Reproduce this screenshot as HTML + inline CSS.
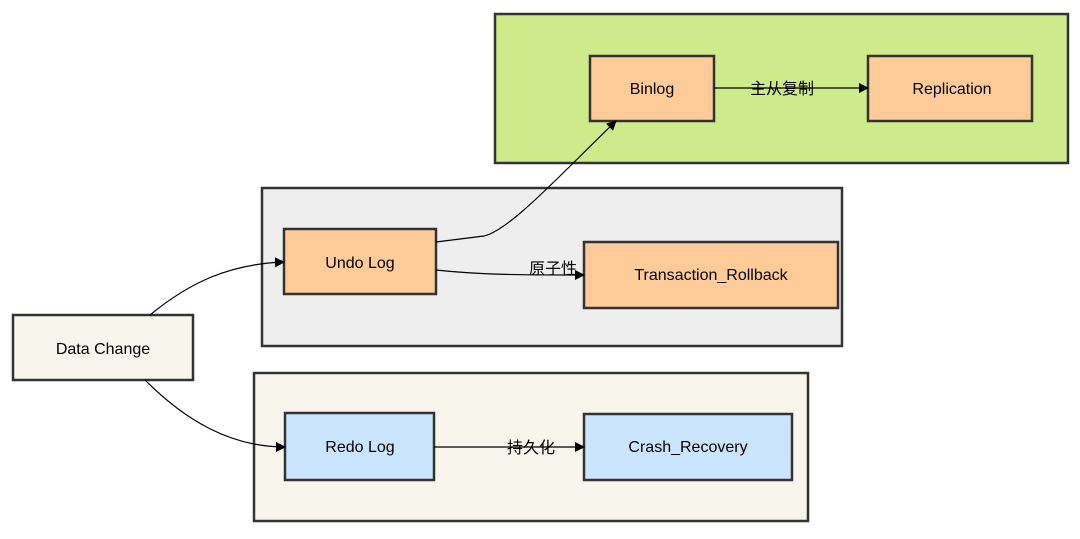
<!DOCTYPE html>
<html><head><meta charset="utf-8"><style>
html,body{margin:0;padding:0;background:#fff;}
svg text{font-family:"Liberation Sans","Noto Sans CJK SC",sans-serif;font-size:16px;fill:#000;}
</style></head><body>
<svg width="1080" height="534" viewBox="0 0 1080 534" xmlns="http://www.w3.org/2000/svg">
<defs>
<marker id="a" markerWidth="10" markerHeight="10" refX="9" refY="5" orient="auto" markerUnits="userSpaceOnUse">
<path d="M0,0 L10,5 L0,10 z" fill="#000"/></marker>
</defs>
<g stroke="#333" stroke-width="2.5">
<rect x="495" y="14" width="573" height="149" fill="#cdeb8b"/>
<rect x="262" y="188" width="580" height="158" fill="#eeeeee"/>
<rect x="254" y="373" width="554" height="148" fill="#f8f5ec"/>
<rect x="13" y="315" width="180" height="65" fill="#f8f5ec"/>
<rect x="284" y="229" width="152" height="65" fill="#ffcc99"/>
<rect x="584" y="242" width="254" height="66" fill="#ffcc99"/>
<rect x="590" y="56" width="124" height="65" fill="#ffcc99"/>
<rect x="868" y="56" width="164" height="65" fill="#ffcc99"/>
<rect x="285" y="413" width="149" height="67" fill="#cce5ff"/>
<rect x="584" y="414" width="208" height="66" fill="#cce5ff"/>
</g>
<g stroke="#000" stroke-width="1.2" fill="none">
<path d="M150,315 C190,282 230,264 284,262" marker-end="url(#a)"/>
<path d="M145,380 C185,420 230,447 285,447" marker-end="url(#a)"/>
<path d="M436,242 L484,236 C510,230 560,175 616,121" marker-end="url(#a)"/>
<path d="M436,270 C480,275 530,275 584,275" marker-end="url(#a)"/>
<path d="M714,88 L868,88" marker-end="url(#a)"/>
<path d="M434,447 L584,447" marker-end="url(#a)"/>
</g>
<g text-anchor="middle">
<text x="103" y="354">Data Change</text>
<text x="360" y="268">Undo Log</text>
<text x="711" y="280">Transaction_Rollback</text>
<text x="652" y="94">Binlog</text>
<text x="952" y="94">Replication</text>
<text x="360" y="452">Redo Log</text>
<text x="688" y="452">Crash_Recovery</text>
<text x="553" y="274" font-size="15">原子性</text>
<text x="782" y="94" font-size="15">主从复制</text>
<text x="531" y="453" font-size="15">持久化</text>
</g>
</svg>
</body></html>
